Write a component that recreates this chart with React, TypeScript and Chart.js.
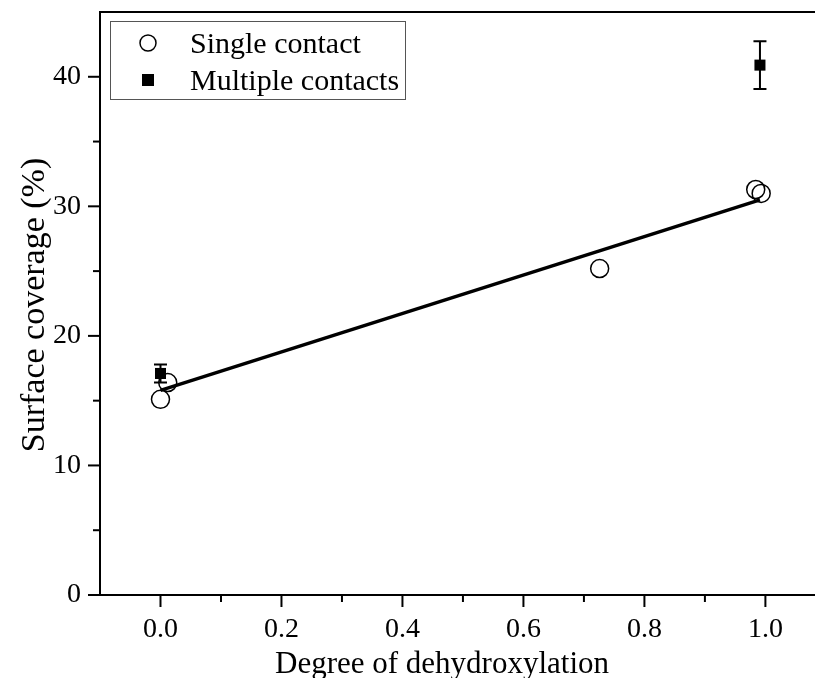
import React, { useEffect, useRef } from 'react';
import { Chart, registerables } from 'chart.js';
Chart.register(...registerables);

const singleX = [0.0, 0.012, 0.726, 0.984, 0.993];
const singleY = [15.1, 16.4, 25.2, 31.3, 31.0];
const multiX = [0.0, 0.991];
const multiY = [17.1, 40.9];
const multiErr = [0.7, 1.85];
const fitX = [0.0, 0.991];
const fitY = [15.8, 30.5];
const xMajorTicks = [0, 0.2, 0.4, 0.6, 0.8, 1.0];
const xMinorTicks = [0.1, 0.3, 0.5, 0.7, 0.9];
const yMajorTicks = [0, 10, 20, 30, 40];
const yMinorTicks = [5, 15, 25, 35];
const seriesNames = ['Single contact', 'Multiple contacts'];
const xTitle = 'Degree of dehydroxylation';
const yTitle = 'Surface coverage (%)';

const FONT = '"Liberation Serif", "Times New Roman", serif';

const decorPlugin = {
  id: 'decor',
  afterDatasetsDraw(chart: any) {
    const { ctx, chartArea, scales } = chart;
    const xs = scales.x;
    const ys = scales.y;
    ctx.save();
    ctx.strokeStyle = '#000';
    ctx.fillStyle = '#000';
    // top border
    ctx.lineWidth = 2;
    ctx.beginPath();
    ctx.moveTo(chartArea.left, chartArea.top);
    ctx.lineTo(chartArea.right, chartArea.top);
    ctx.stroke();
    // x ticks
    ctx.lineWidth = 2;
    xMajorTicks.forEach((v) => {
      const p = xs.getPixelForValue(v);
      ctx.beginPath();
      ctx.moveTo(p, chartArea.bottom);
      ctx.lineTo(p, chartArea.bottom + 12);
      ctx.stroke();
    });
    xMinorTicks.forEach((v) => {
      const p = xs.getPixelForValue(v);
      ctx.beginPath();
      ctx.moveTo(p, chartArea.bottom);
      ctx.lineTo(p, chartArea.bottom + 7);
      ctx.stroke();
    });
    yMajorTicks.forEach((v) => {
      const p = ys.getPixelForValue(v);
      ctx.beginPath();
      ctx.moveTo(chartArea.left, p);
      ctx.lineTo(chartArea.left - 12, p);
      ctx.stroke();
    });
    yMinorTicks.forEach((v) => {
      const p = ys.getPixelForValue(v);
      ctx.beginPath();
      ctx.moveTo(chartArea.left, p);
      ctx.lineTo(chartArea.left - 7, p);
      ctx.stroke();
    });
    // error bars
    ctx.lineWidth = 2;
    multiX.forEach((xv, i) => {
      const px = xs.getPixelForValue(xv);
      const pt = ys.getPixelForValue(multiY[i] + multiErr[i]);
      const pb = ys.getPixelForValue(multiY[i] - multiErr[i]);
      ctx.beginPath();
      ctx.moveTo(px, pt);
      ctx.lineTo(px, pb);
      ctx.moveTo(px - 6.5, pt);
      ctx.lineTo(px + 6.5, pt);
      ctx.moveTo(px - 6.5, pb);
      ctx.lineTo(px + 6.5, pb);
      ctx.stroke();
    });
    // legend
    ctx.lineWidth = 1;
    ctx.strokeStyle = '#555';
    ctx.strokeRect(110.5, 21.5, 295, 78);
    ctx.strokeStyle = '#000';
    ctx.lineWidth = 1.5;
    ctx.beginPath();
    ctx.arc(148, 43, 8, 0, Math.PI * 2);
    ctx.stroke();
    ctx.fillRect(142, 74, 12, 12);
    ctx.font = `30px ${FONT}`;
    ctx.textAlign = 'left';
    ctx.textBaseline = 'alphabetic';
    ctx.fillText(seriesNames[0], 190, 53);
    ctx.fillText(seriesNames[1], 190, 90);
    // axis titles
    ctx.font = `31px ${FONT}`;
    ctx.textAlign = 'center';
    ctx.fillText(xTitle, 442, 673);
    ctx.save();
    ctx.translate(44, 305);
    ctx.rotate(-Math.PI / 2);
    ctx.font = `34px ${FONT}`;
    ctx.fillText(yTitle, 0, 0);
    ctx.restore();
    ctx.restore();
  },
};

const zeroPad = (s: any) => {
  s.paddingTop = 0;
  s.paddingBottom = 0;
  s.paddingLeft = 0;
  s.paddingRight = 0;
};

export default function App() {
  const ref = useRef<HTMLCanvasElement>(null);
  useEffect(() => {
    if (!ref.current) return;
    const chart = new Chart(ref.current, {
      type: 'scatter',
      data: {
        datasets: [
          {
            label: seriesNames[1],
            data: multiX.map((x, i) => ({ x, y: multiY[i] })),
            pointStyle: 'rect',
            pointRadius: 7.8,
            backgroundColor: '#000',
            borderColor: '#000',
            borderWidth: 0,
            order: 0,
          },
          {
            type: 'line',
            label: 'fit',
            data: fitX.map((x, i) => ({ x, y: fitY[i] })),
            borderColor: '#000',
            borderWidth: 3.5,
            pointRadius: 0,
            fill: false,
            order: 1,
          } as any,
          {
            label: seriesNames[0],
            data: singleX.map((x, i) => ({ x, y: singleY[i] })),
            pointStyle: 'circle',
            pointRadius: 9,
            backgroundColor: 'rgba(255,255,255,0)',
            borderColor: '#000',
            borderWidth: 1.5,
            order: 2,
          },
        ],
      },
      options: {
        animation: false,
        responsive: false,
        layout: { autoPadding: false, padding: { top: 12, right: 0, left: 0, bottom: 0 } },
        plugins: { legend: { display: false }, tooltip: { enabled: false } },
        scales: {
          x: {
            type: 'linear',
            min: -0.1,
            max: 1.082,
            grid: { display: false, drawTicks: false },
            border: { display: true, color: '#000', width: 2 },
            afterBuildTicks: (s: any) => {
              s.ticks = xMajorTicks.map((v) => ({ value: v }));
            },
            afterFit: (s: any) => {
              s.height = 83;
              zeroPad(s);
            },
            ticks: {
              padding: 18,
              color: '#000',
              font: { family: FONT, size: 28 },
              maxRotation: 0,
              callback: (v: any) => Number(v).toFixed(1),
            },
          },
          y: {
            type: 'linear',
            min: 0,
            max: 45,
            grid: { display: false, drawTicks: false },
            border: { display: true, color: '#000', width: 2 },
            afterBuildTicks: (s: any) => {
              s.ticks = yMajorTicks.map((v) => ({ value: v }));
            },
            afterFit: (s: any) => {
              s.width = 100;
              zeroPad(s);
            },
            ticks: {
              padding: 19,
              color: '#000',
              font: { family: FONT, size: 28 },
              callback: (v: any) => String(v),
            },
          },
        },
      },
      plugins: [decorPlugin],
    });
    return () => chart.destroy();
  }, []);
  return (
    <div style={{ position: 'fixed', left: 0, top: 0, width: 815, height: 678, background: '#fff' }}>
      <canvas ref={ref} width={815} height={678} style={{ width: 815, height: 678 }} />
    </div>
  );
}
